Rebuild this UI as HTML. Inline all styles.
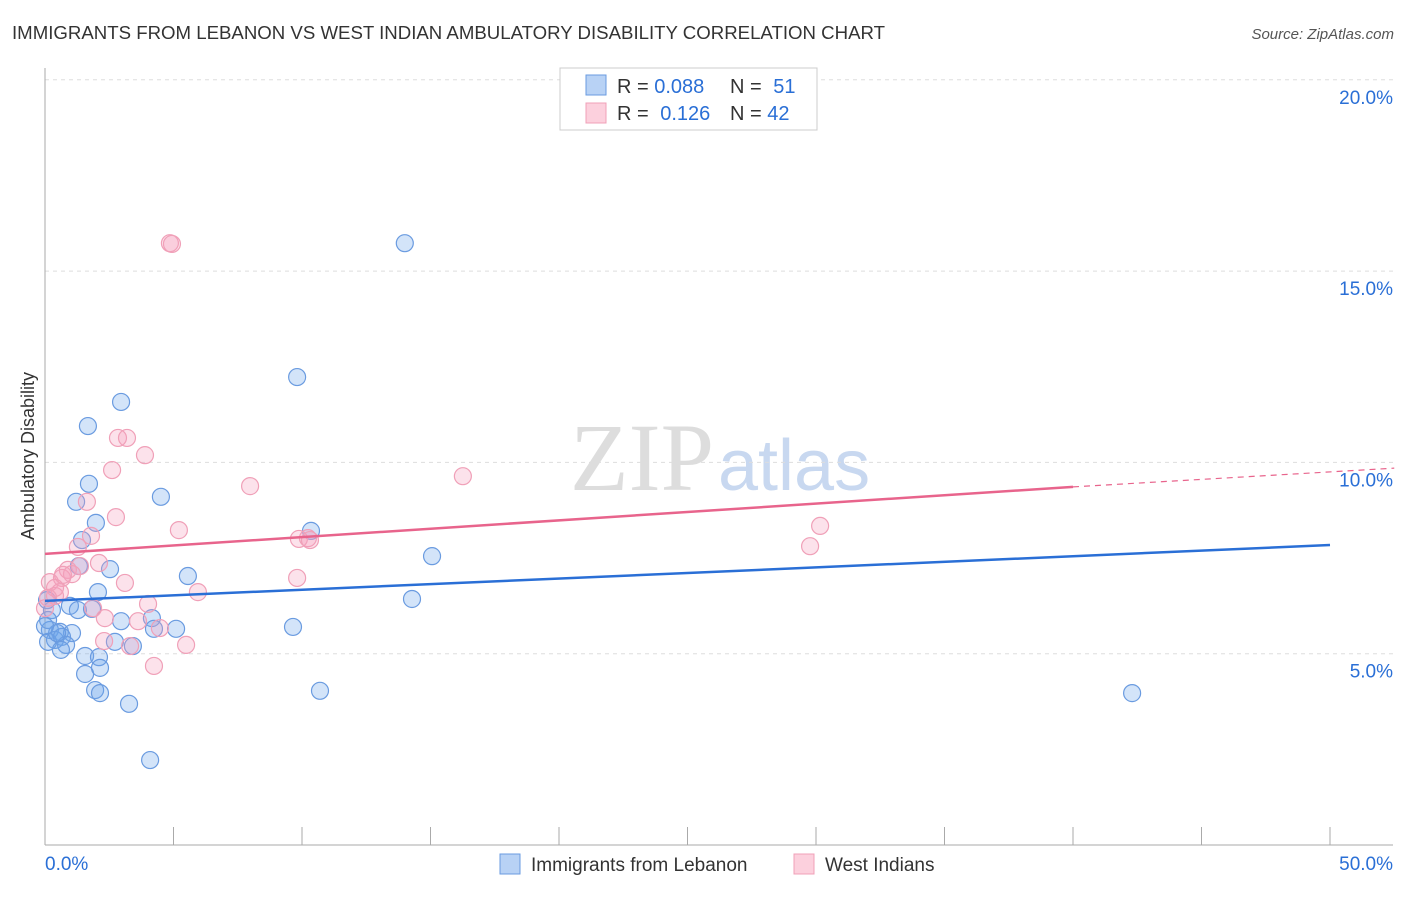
<!DOCTYPE html>
<html><head><meta charset="utf-8"><style>
body{margin:0;background:#fff;font-family:"Liberation Sans",sans-serif;}
</style></head><body>
<svg id="c" width="1406" height="892" xmlns="http://www.w3.org/2000/svg">
<text x="12" y="39" font-size="18" fill="#333" textLength="873" lengthAdjust="spacingAndGlyphs">IMMIGRANTS FROM LEBANON VS WEST INDIAN AMBULATORY DISABILITY CORRELATION CHART</text>
<text x="1394" y="39" font-size="15" fill="#555" text-anchor="end" font-style="italic">Source: ZipAtlas.com</text>
<text x="0" y="0" transform="translate(34,456) rotate(-90)" font-size="18" fill="#333" text-anchor="middle">Ambulatory Disability</text>
<text x="714" y="490" font-size="96" fill="#ddd" text-anchor="end" font-family="Liberation Serif">ZIP</text>
<text x="718" y="490" font-size="72" fill="#c8d8f0">atlas</text>
<g id="grid"></g><g id="pts"></g><g id="lines"></g>
<rect x="560" y="68" width="257" height="62" fill="#fff" stroke="#ccc"/>
<rect x="586" y="75" width="20" height="20" fill="#b8d2f5" stroke="#6a9be0"/>
<rect x="586" y="103" width="20" height="20" fill="#fcd0dd" stroke="#f0a0b8"/>
<text x="617" y="93" font-size="20" fill="#333">R = <tspan fill="#2a6fd6">0.088</tspan></text>
<text x="730" y="93" font-size="20" fill="#333">N = <tspan fill="#2a6fd6" dx="6">51</tspan></text>
<text x="617" y="120" font-size="20" fill="#333">R = <tspan fill="#2a6fd6" dx="6">0.126</tspan></text>
<text x="730" y="120" font-size="20" fill="#333">N = <tspan fill="#2a6fd6">42</tspan></text>
<rect x="500" y="854" width="20" height="20" fill="#b8d2f5" stroke="#6a9be0"/>
<text x="531" y="871" font-size="19" fill="#333">Immigrants from Lebanon</text>
<rect x="794" y="854" width="20" height="20" fill="#fcd0dd" stroke="#f0a0b8"/>
<text x="825" y="871" font-size="19" fill="#333">West Indians</text>
</svg>
<script>
const yTicks=[5,10,15,20];
const xTickLabels=["0.0%","50.0%"];
const blueX=[14.0,9.81,2.96,1.67,1.71,1.21,4.51,1.98,10.35,1.44,15.06,2.53,1.32,5.56,14.28,0.97,1.28,1.83,2.06,2.96,4.16,4.24,5.10,9.65,0.19,0.58,1.05,0.39,0.12,0.66,0.82,0.62,1.56,2.10,1.56,2.14,1.95,2.14,3.27,10.70,42.30,4.09,3.42,0.27,0.12,0.47,0.0,2.72,0.08];
const blueY=[15.73,12.23,11.58,10.95,9.44,8.97,9.10,8.42,8.21,7.97,7.55,7.21,7.29,7.03,6.43,6.25,6.14,6.17,6.61,5.85,5.93,5.65,5.65,5.70,5.62,5.57,5.54,5.36,5.31,5.44,5.23,5.10,4.94,4.91,4.47,4.63,4.05,3.97,3.69,4.03,3.97,2.22,5.20,6.14,5.88,5.54,5.72,5.31,6.40];
const pinkX=[4.86,4.94,2.84,3.19,3.89,2.61,7.98,16.26,1.63,2.76,5.21,9.88,10.23,10.31,30.16,29.77,1.79,1.28,1.36,0.89,0.66,1.05,3.11,2.10,0.19,0.39,0.58,0,9.81,5.95,4.01,1.87,2.33,3.62,4.47,2.30,3.31,5.49,4.24,0.39,0.70,0.12];
const pinkY=[15.73,15.71,10.64,10.64,10.19,9.80,9.38,9.64,8.97,8.57,8.23,8.00,8.02,7.97,8.34,7.81,8.08,7.79,7.29,7.19,6.98,7.08,6.85,7.37,6.87,6.51,6.61,6.19,6.98,6.61,6.30,6.19,5.93,5.85,5.67,5.33,5.20,5.23,4.68,6.72,7.06,6.46];
const blueTrend=[6.38,7.84];
const pinkTrend=[7.61,9.36,9.85];
const NS="http://www.w3.org/2000/svg";
const X=v=>45+v/50*1285, Y=v=>845-v*38.26;
function mk(t,a,p){const e=document.createElementNS(NS,t);for(const k in a)e.setAttribute(k,a[k]);document.getElementById(p).appendChild(e);return e;}
yTicks.forEach(t=>{
 const l=mk('line',{x1:45,x2:1393,y1:Y(t),y2:Y(t),stroke:'#ddd','stroke-dasharray':'4,4'},'grid');
 
 
 const tx=mk('text',{x:1393,y:Y(t)+24,'font-size':19,fill:'#2a6fd6','text-anchor':'end'},'grid');tx.textContent=t.toFixed(1)+'%';
 
 
});
mk('line',{x1:45,x2:45,y1:68,y2:845,stroke:'#aaa'},'grid');
mk('line',{x1:45,x2:1393,y1:845,y2:845,stroke:'#aaa'},'grid');
for(let i=0;i<=10;i++){const t=mk('line',{x1:X(i*5),x2:X(i*5),y1:827,y2:845,stroke:'#aaa'},'grid');
 
 }
[[0,45,'start'],[1,1393,'end']].forEach(([i,x,a])=>{const t=mk('text',{x:x,y:870,'font-size':19,fill:'#2a6fd6','text-anchor':a},'grid');t.textContent=xTickLabels[i];
 
 });
blueX.forEach((v,i)=>{const c=mk('circle',{cx:X(v),cy:Y(blueY[i]),r:8.5,fill:'rgba(110,165,235,0.3)',stroke:'#6a9be0','stroke-width':1.2},'pts');
 
 });
pinkX.forEach((v,i)=>{const c=mk('circle',{cx:X(v),cy:Y(pinkY[i]),r:8.5,fill:'rgba(245,160,190,0.3)',stroke:'#f0a0b8','stroke-width':1.2},'pts');
 
 });
const b=mk('line',{x1:X(0),y1:Y(blueTrend[0]),x2:X(50),y2:Y(blueTrend[1]),stroke:'#2a6fd6','stroke-width':2.5},'lines');


const p=mk('line',{x1:X(0),y1:Y(pinkTrend[0]),x2:X(40),y2:Y(pinkTrend[1]),stroke:'#e8648c','stroke-width':2.5},'lines');


const pd=mk('line',{x1:X(40),y1:Y(pinkTrend[1]),x2:X(52.5),y2:Y(pinkTrend[2]),stroke:'#e8648c','stroke-width':1.2,'stroke-dasharray':'6,5'},'lines');


</script>
</body></html>
